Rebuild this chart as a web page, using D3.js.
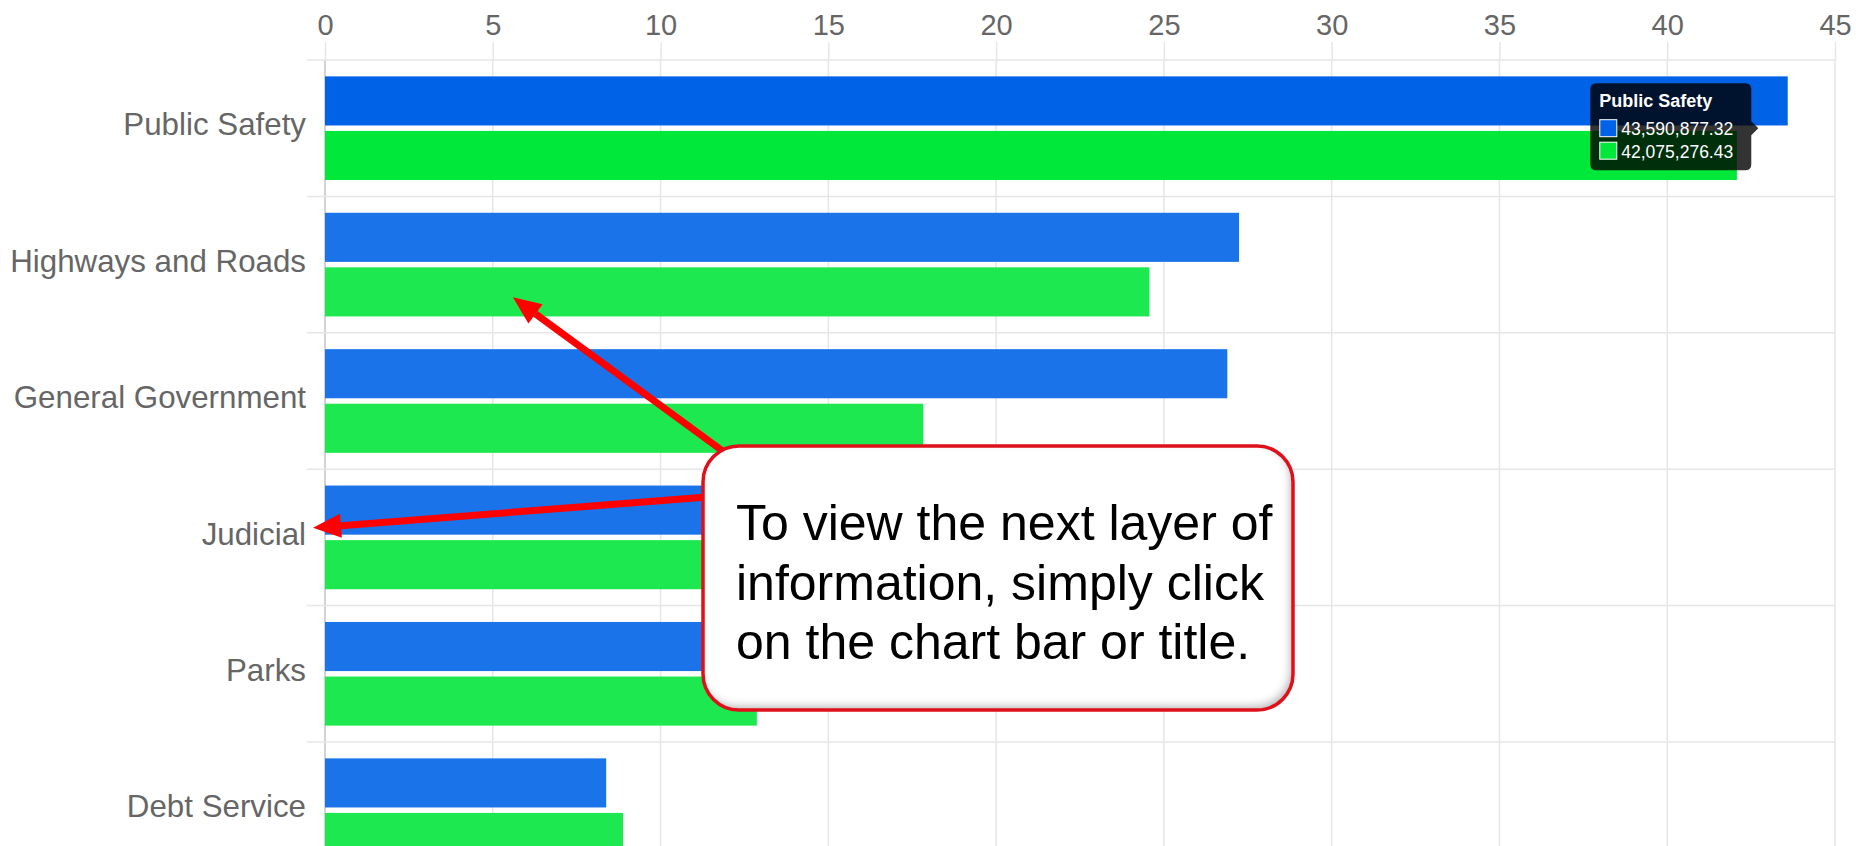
<!DOCTYPE html>
<html>
<head>
<meta charset="utf-8">
<script src="https://cdn.jsdelivr.net/npm/d3@7"></script>
<style>
  body { margin: 0; background: #fff; }
  svg { display: block; font-family: "Liberation Sans", Arial, Helvetica, sans-serif; }
</style>
</head>
<body>
<svg id="chart" width="1856" height="846"></svg>
<script>
// values in millions of dollars
const categories = ["Public Safety", "Highways and Roads", "General Government", "Judicial", "Parks", "Debt Service"];
const budgetA = [43.590877, 27.24, 26.89, 16.2, 14.6, 8.38];
const budgetB = [42.075276, 24.57, 17.83, 14.1, 12.87, 8.88];
const xTicks = [0, 5, 10, 15, 20, 25, 30, 35, 40, 45];
const tooltipTitle = "Public Safety";
const tooltipLines = ["43,590,877.32", "42,075,276.43"];
const calloutLines = ["To view the next layer of", "information, simply click", "on the chart bar or title."];

const width = 1856, height = 846;
const plotL = 325, plotR = 1835, plotT = 60;
const step = 136.4;

const svg = d3.select("#chart");

const x = d3.scaleLinear().domain([0, 45]).range([plotL, plotR]);
const y = d3.scaleBand().domain(categories).range([plotT, plotT + step * categories.length]);
const inner = d3.scaleBand().domain(["a", "b"])
  .range([0.1 * y.bandwidth(), 0.9 * y.bandwidth()])
  .paddingInner(0.1).paddingOuter(0.05);

// grid
const grid = svg.append("g").attr("stroke", "#e6e6e6").attr("stroke-width", 1.5);
grid.selectAll("line.v")
  .data(xTicks)
  .enter().append("line")
  .attr("x1", d => x(d)).attr("x2", d => x(d))
  .attr("y1", plotT).attr("y2", height)
  .attr("stroke", d => d === 0 ? "#c4c4c4" : null);

grid.selectAll("line.h")
  .data(categories.concat([null]))
  .enter().append("line")
  .attr("x1", plotL - 18).attr("x2", plotR)
  .attr("y1", (d, i) => plotT + i * step).attr("y2", (d, i) => plotT + i * step);

// top axis
const xAxis = svg.append("g")
  .attr("transform", `translate(0,${plotT})`)
  .call(d3.axisTop(x).tickValues(xTicks).tickSize(18).tickPadding(7));
xAxis.select(".domain").remove();
xAxis.selectAll("line").attr("stroke", "#e6e6e6").attr("stroke-width", 1.5);
xAxis.selectAll("text")
  .attr("fill", "#666")
  .style("font-size", "29px")
  .style("font-family", "'Liberation Sans', Arial, sans-serif");

// left axis labels
const yAxis = svg.append("g")
  .attr("transform", `translate(${plotL},0)`)
  .call(d3.axisLeft(y).tickSize(0).tickPadding(19));
yAxis.select(".domain").remove();
yAxis.selectAll("text")
  .attr("fill", "#666")
  .attr("dy", "0.23em")
  .style("font-size", "31.3px")
  .style("font-family", "'Liberation Sans', Arial, sans-serif");

// bars
const rows = categories.map((c, i) => ({ cat: c, a: budgetA[i], b: budgetB[i], hover: c === tooltipTitle }));

const barA = svg.append("g").selectAll("rect")
  .data(rows)
  .enter().append("rect")
  .attr("x", x(0))
  .attr("y", d => y(d.cat) + inner("a"))
  .attr("width", d => x(d.a) - x(0))
  .attr("height", inner.bandwidth())
  .attr("fill", d => d.hover ? "#0062e6" : "#1a73e8");

const barB = svg.append("g").selectAll("rect")
  .data(rows)
  .enter().append("rect")
  .attr("x", x(0))
  .attr("y", d => y(d.cat) + inner("b"))
  .attr("width", d => x(d.b) - x(0))
  .attr("height", inner.bandwidth())
  .attr("fill", d => d.hover ? "#00e83a" : "#1ee850");

// tooltip for the hovered category
const hi = categories.indexOf(tooltipTitle);
const ax = (x(budgetA[hi]) + x(budgetB[hi])) / 2;
const ay = y(tooltipTitle) + y.bandwidth() / 2;
const tipX = ax - 4;
const boxR = tipX - 7, boxW = 161, boxL = boxR - boxW;
const boxT = ay - 45, boxH = 87;

const tip = svg.append("g");
tip.append("path")
  .attr("d", `M${boxL + 6},${boxT} H${boxR - 6} Q${boxR},${boxT} ${boxR},${boxT + 6} V${ay - 7} L${tipX},${ay} L${boxR},${ay + 7} V${boxT + boxH - 6} Q${boxR},${boxT + boxH} ${boxR - 6},${boxT + boxH} H${boxL + 6} Q${boxL},${boxT + boxH} ${boxL},${boxT + boxH - 6} V${boxT + 6} Q${boxL},${boxT} ${boxL + 6},${boxT} Z`)
  .attr("fill", "rgba(0,0,0,0.8)");
tip.append("text")
  .attr("x", boxL + 9).attr("y", boxT + 24)
  .attr("fill", "#fff")
  .style("font-size", "18px").style("font-weight", "bold")
  .text(tooltipTitle);
const swatch = ["#0062e6", "#00e83a"];
tooltipLines.forEach((t, i) => {
  tip.append("rect")
    .attr("x", boxL + 9.5).attr("y", boxT + 36.5 + i * 22.5)
    .attr("width", 17).attr("height", 17)
    .attr("fill", swatch[i]).attr("stroke", "#fff").attr("stroke-width", 1);
  tip.append("text")
    .attr("x", boxL + 31).attr("y", boxT + 52 + i * 22.5)
    .attr("fill", "#fff")
    .style("font-size", "17.5px")
    .text(t);
});

// annotation arrows
const arrows = [
  { from: [735, 460], to: [x(5.6), y("Highways and Roads") + inner("b") + 30] },
  { from: [720, 496], to: [plotL - 12, y("Judicial") + 0.43 * y.bandwidth()] }
];
arrows.forEach(a => {
  const [x1, y1] = a.from, [x2, y2] = a.to;
  const ang = Math.atan2(y2 - y1, x2 - x1);
  const hl = 28, hw = 12;
  const bx = x2 - hl * Math.cos(ang), by = y2 - hl * Math.sin(ang);
  svg.append("line")
    .attr("x1", x1).attr("y1", y1).attr("x2", bx).attr("y2", by)
    .attr("stroke", "#ff0000").attr("stroke-width", 7);
  svg.append("path")
    .attr("d", `M${x2},${y2} L${bx + hw * Math.sin(ang)},${by - hw * Math.cos(ang)} L${bx - hw * Math.sin(ang)},${by + hw * Math.cos(ang)} Z`)
    .attr("fill", "#ff0000");
});

// callout box
const defs = svg.append("defs");
const f = defs.append("filter").attr("id", "bevel")
  .attr("x", "-5%").attr("y", "-5%").attr("width", "110%").attr("height", "115%");
f.append("feFlood").attr("flood-color", "#000").attr("flood-opacity", 0.55).attr("result", "c");
f.append("feComposite").attr("in", "c").attr("in2", "SourceAlpha").attr("operator", "out").attr("result", "o");
f.append("feGaussianBlur").attr("in", "o").attr("stdDeviation", 4).attr("result", "b");
f.append("feOffset").attr("in", "b").attr("dx", -3).attr("dy", -4).attr("result", "s");
f.append("feComposite").attr("in", "s").attr("in2", "SourceAlpha").attr("operator", "in").attr("result", "is");
const m = f.append("feMerge");
m.append("feMergeNode").attr("in", "SourceGraphic");
m.append("feMergeNode").attr("in", "is");

svg.append("rect")
  .attr("x", 703).attr("y", 446)
  .attr("width", 590).attr("height", 264)
  .attr("rx", 36).attr("ry", 36)
  .attr("fill", "#fff")
  .attr("filter", "url(#bevel)");
svg.append("rect")
  .attr("x", 703).attr("y", 446)
  .attr("width", 590).attr("height", 264)
  .attr("rx", 36).attr("ry", 36)
  .attr("fill", "none")
  .attr("stroke", "#e0101a").attr("stroke-width", 3.5);

svg.append("g").selectAll("text")
  .data(calloutLines)
  .enter().append("text")
  .attr("x", 736)
  .attr("y", (d, i) => 540 + i * 59.5)
  .attr("fill", "#000")
  .style("font-size", "50px")
  .text(d => d);
</script>
</body>
</html>
